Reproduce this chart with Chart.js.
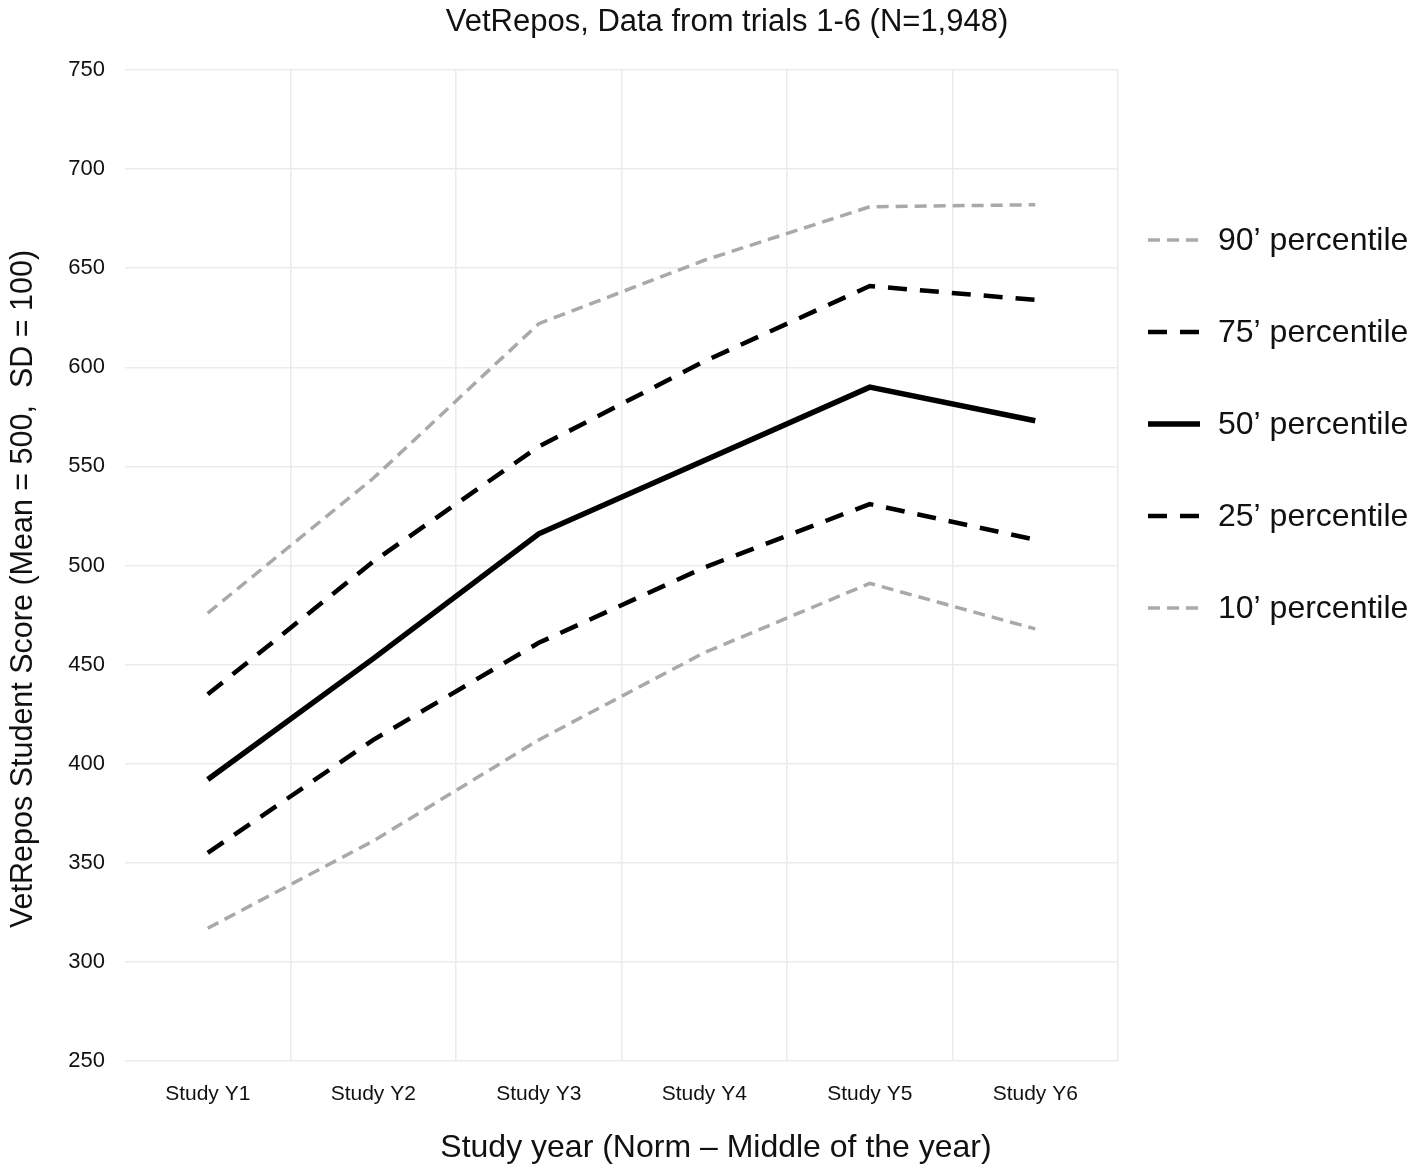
<!DOCTYPE html>
<html lang="en">
<head>
  <meta charset="UTF-8">
  <title>VetRepos, Data from trials 1-6</title>
  <script src="https://cdn.jsdelivr.net/npm/chart.js@4.4.1/dist/chart.umd.min.js"></script>
  <style>
    html, body { margin: 0; padding: 0; background: #fff; }
    .chart-box { width: 1418px; height: 1172px; }
  </style>
</head>
<body>
  <div class="chart-box"><canvas id="pctChart"></canvas></div>

  <script>
    // values
    const years = ['Study Y1', 'Study Y2', 'Study Y3', 'Study Y4', 'Study Y5', 'Study Y6'];
    const p90 = [476, 544, 622, 654, 681, 682];
    const p75 = [435, 502, 560, 603, 641, 634];
    const p50 = [392, 453, 516, 553, 590, 573];
    const p25 = [355, 412, 461, 499, 531, 513];
    const p10 = [317, 361, 412, 456, 491, 468];
    const seriesNames = ['90’ percentile', '75’ percentile', '50’ percentile', '25’ percentile', '10’ percentile'];
    const yMin = 250, yMax = 750, yStep = 50;
    const xTitle = 'Study year (Norm – Middle of the year)';
    const yTitle = 'VetRepos Student Score (Mean = 500,  SD = 100)';

    const FONT = '"Liberation Sans", Arial, sans-serif';
    const GRAY = '#a9a9a9';
    const GRID = '#ebebeb';

    // axis titles and legend, placed relative to the plot area
    const sideBits = {
      id: 'sideBits',
      afterDraw(chart) {
        const { ctx, chartArea } = chart;
        ctx.save();
        ctx.fillStyle = '#111';
        ctx.textAlign = 'center';
        ctx.textBaseline = 'middle';

        ctx.font = '32px ' + FONT;
        ctx.fillText(xTitle, chartArea.left + 591, chartArea.bottom + 87);

        ctx.save();
        ctx.translate(chartArea.left - 101, chartArea.top + 519);
        ctx.rotate(-Math.PI / 2);
        ctx.font = '30.5px ' + FONT;
        ctx.fillText(yTitle, 0, 0);
        ctx.restore();

        const x0 = chartArea.right + 30;
        ctx.textAlign = 'left';
        chart.data.datasets.forEach((ds, i) => {
          const y = chartArea.top + 170 + i * 92;
          ctx.beginPath();
          ctx.setLineDash(ds.borderDash || []);
          ctx.lineWidth = ds.borderWidth;
          ctx.strokeStyle = ds.borderColor;
          ctx.moveTo(x0, y);
          ctx.lineTo(x0 + 52, y);
          ctx.stroke();
          ctx.setLineDash([]);
          ctx.font = '32px ' + FONT;
          ctx.fillText(ds.label, x0 + 70, y + 1);
        });
        ctx.restore();
      }
    };

    function series(label, data, color, width, dash) {
      return {
        label: label,
        data: data,
        borderColor: color,
        backgroundColor: color,
        borderWidth: width,
        borderDash: dash,
        pointRadius: 0,
        pointHoverRadius: 0,
        tension: 0,
        fill: false
      };
    }

    new Chart(document.getElementById('pctChart'), {
      type: 'line',
      data: {
        labels: years,
        datasets: [
          series(seriesNames[0], p90, GRAY, 3.5, [12, 7]),
          series(seriesNames[1], p75, '#000', 4.5, [19, 13]),
          series(seriesNames[2], p50, '#000', 5.5, []),
          series(seriesNames[3], p25, '#000', 4.5, [19, 13]),
          series(seriesNames[4], p10, GRAY, 3.5, [12, 7])
        ]
      },
      options: {
        responsive: true,
        maintainAspectRatio: false,
        animation: false,
        layout: { padding: { left: 36 } },
        plugins: {
          legend: { display: false },
          tooltip: { enabled: false },
          title: {
            display: true,
            text: 'VetRepos, Data from trials 1-6 (N=1,948)',
            color: '#111',
            font: { family: FONT, size: 31, weight: 'normal' },
            padding: { top: 3.4, bottom: 29.4 }
          }
        },
        scales: {
          x: {
            offset: true,
            border: { display: false },
            grid: {
              offset: true,
              drawTicks: false,
              lineWidth: 1.5,
              color: ctx => ctx.index === 0 ? 'rgba(0,0,0,0)' : GRID
            },
            ticks: {
              color: '#111',
              padding: 21,
              maxRotation: 0,
              font: { family: FONT, size: 21 }
            },
            afterFit(scale) { scale.height = 111; }
          },
          y: {
            min: yMin,
            max: yMax,
            border: { display: false },
            grid: { drawTicks: false, lineWidth: 1.5, color: GRID },
            ticks: {
              stepSize: yStep,
              color: '#111',
              padding: 20,
              font: { family: FONT, size: 22 }
            },
            afterFit(scale) { scale.width = 89; }
          },
          // empty right-hand axis that keeps room for the legend
          legendSpace: {
            type: 'linear',
            position: 'right',
            border: { display: false },
            grid: { display: false },
            ticks: { display: false },
            afterFit(scale) { scale.width = 300; }
          }
        }
      },
      plugins: [sideBits]
    });
  </script>
</body>
</html>
